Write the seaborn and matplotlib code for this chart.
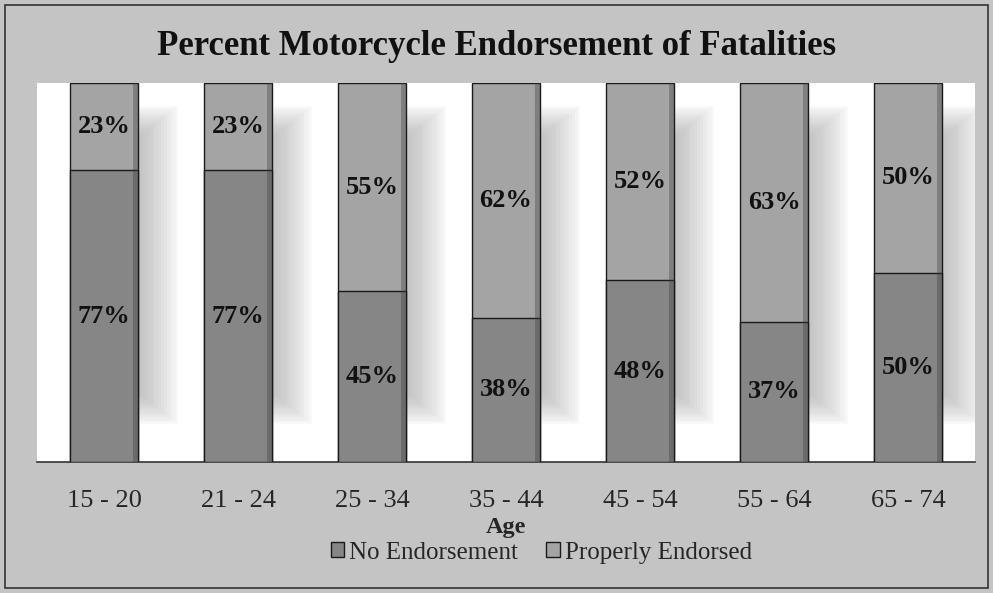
import matplotlib
matplotlib.use("Agg")
import matplotlib.pyplot as plt
import seaborn as sns
import pandas as pd
import numpy as np
from matplotlib.patches import Rectangle, Patch

ages = ["15 - 20", "21 - 24", "25 - 34", "35 - 44", "45 - 54", "55 - 64", "65 - 74"]
no_endorsement = [77, 77, 45, 38, 48, 37, 50]
properly_endorsed = [23, 23, 55, 62, 52, 63, 50]

sns.set_theme(style="white")
plt.rcParams["font.family"] = ["Liberation Serif", "DejaVu Serif"]

BG = "#c4c4c4"
TOP_C = "#a4a4a4"
BOT_C = "#868686"

df = pd.DataFrame({
    "Age": ages,
    "No Endorsement": no_endorsement,
    "Properly Endorsed": properly_endorsed,
})
df["Total"] = df["No Endorsement"] + df["Properly Endorsed"]

fig = plt.figure(figsize=(9.93, 5.93), dpi=100, facecolor=BG)
ax = fig.add_axes([0.0373, 0.2209, 0.9446, 0.6391])
ax.set_facecolor("white")

# soft shadows to the right of each bar
xs = np.arange(len(ages))
n = 14
for k in range(n):
    w = 0.30 * (1 - k / n)
    ax.bar(xs + 0.255 + w / 2, df["Total"] * (0.84 - 0.012 * k), width=w,
           bottom=df["Total"] * (0.10 + 0.006 * k), color="#a0a0a0", alpha=0.06,
           linewidth=0, zorder=1)

sns.barplot(data=df, x="Age", y="Total", color=TOP_C, width=0.51,
            edgecolor="#1a1a1a", linewidth=1.0, saturation=1, ax=ax, zorder=2)
sns.barplot(data=df, x="Age", y="No Endorsement", color=BOT_C, width=0.51,
            edgecolor="#1a1a1a", linewidth=1.0, saturation=1, ax=ax, zorder=3)

# darker right edge on bars for a cylinder look
for i in range(len(ages)):
    ax.bar(i + 0.235, df["Total"][i], width=0.04, color="#3a3a3a", alpha=0.35,
           linewidth=0, zorder=4)

for i in range(len(ages)):
    b = no_endorsement[i]
    t = properly_endorsed[i]
    ax.text(i, b / 2, f"{b}%", ha="center", va="center", fontsize=19,
            fontweight="bold", color="#111111", zorder=5)
    ax.text(i, b + t / 2, f"{t}%", ha="center", va="center", fontsize=19,
            fontweight="bold", color="#111111", zorder=5)

ax.set_xlim(-0.5, len(ages) - 0.5)
ax.set_ylim(0, 100)
ax.set_yticks([])
ax.set_ylabel("")
ax.set_xlabel("Age", fontsize=17.5, fontweight="bold", labelpad=4)
ax.tick_params(axis="x", length=0, pad=20, labelsize=19)
for s in ["top", "left", "right"]:
    ax.spines[s].set_visible(False)
ax.spines["bottom"].set_color("#333333")
ax.spines["bottom"].set_linewidth(1.2)

fig.text(0.5, 0.921, "Percent Motorcycle Endorsement of Fatalities",
         ha="center", va="center", fontsize=25, fontweight="bold", color="#111111")

handles = [Patch(facecolor=BOT_C, edgecolor="#1a1a1a"),
           Patch(facecolor=TOP_C, edgecolor="#1a1a1a")]
fig.legend(handles, ["No Endorsement", "Properly Endorsed"], loc="center",
           bbox_to_anchor=(0.545, 0.068), ncol=2, frameon=False, fontsize=18,
           handlelength=0.55, handleheight=0.55, handletextpad=0.2, columnspacing=1.1)

fig.add_artist(Rectangle((0.005, 0.0084), 0.99, 0.983, transform=fig.transFigure,
                         fill=False, edgecolor="#333333", linewidth=1.2))

fig.savefig("out.png", dpi=100, facecolor=BG)
